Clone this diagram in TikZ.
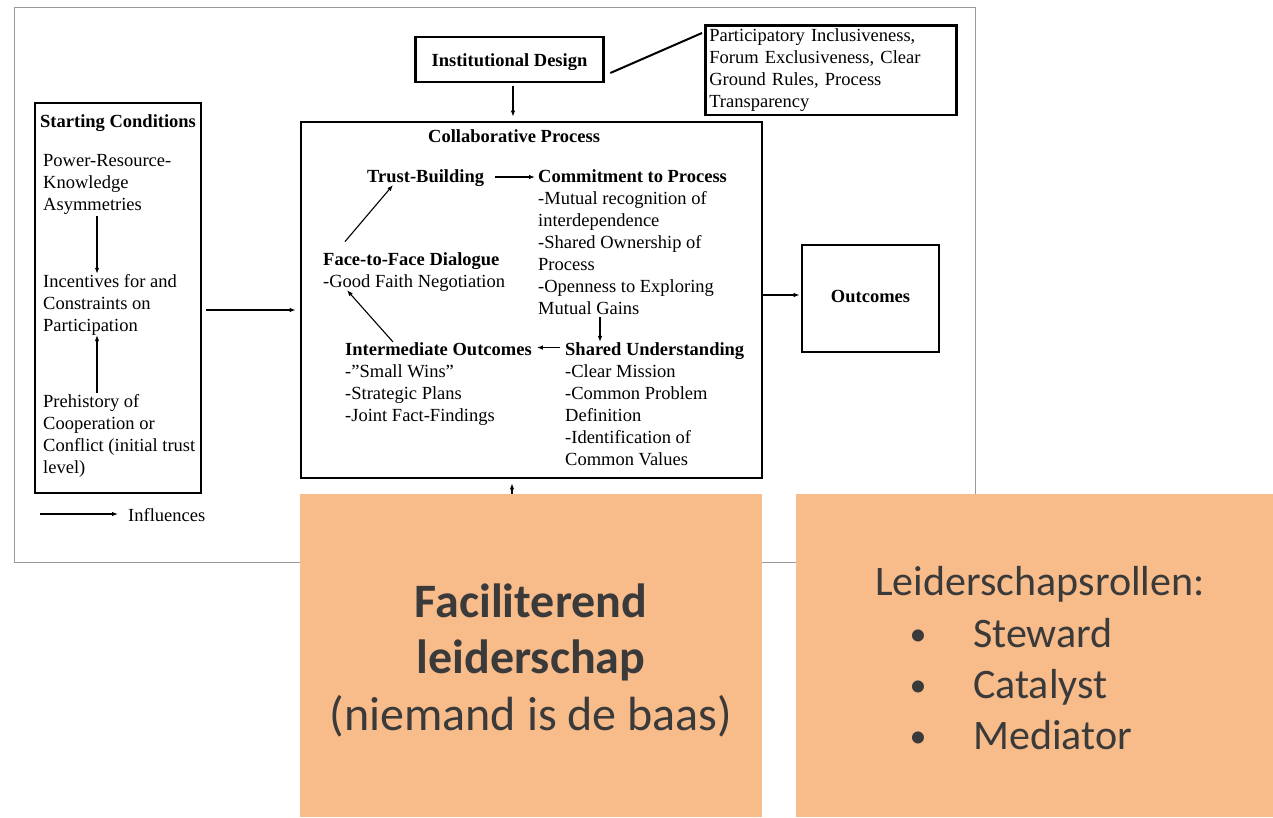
\documentclass[tikz,border=0pt]{standalone}
\usepackage{fontspec}
\setmainfont{Liberation Serif}
\newfontfamily\calib{Carlito}
\usetikzlibrary{arrows.meta}
\definecolor{orangebg}{RGB}{248,187,138}
\definecolor{ink}{RGB}{58,58,58}
\begin{document}
\begin{tikzpicture}[x=1pt,y=-1pt,
  box/.style={draw, line width=2.6pt, inner sep=0pt},
  txt/.style={font=\fontsize{18.5}{22}\selectfont, inner sep=0pt, align=left, anchor=base west},
  arr/.style={line width=1.1pt, -{Latex[length=6pt,width=4.5pt]}},
  panel/.style={fill=orangebg, draw=none, inner sep=0pt, anchor=north west},
  big/.style={font=\calib\fontsize{48}{56.5}\selectfont, text=ink, inner sep=0pt},
  mid/.style={font=\calib\fontsize{42}{51.5}\selectfont, text=ink, inner sep=0pt},
  bul/.style={font=\calib\fontsize{34}{40}\selectfont, text=ink, inner sep=0pt}]
\useasboundingbox (0,0) rectangle (1273,817);
\draw[line width=1pt, gray!80] (14,7) rectangle (975,562);

% helper coordinates
\coordinate (c97) at (97,0);
\coordinate (c513) at (513,0);
\coordinate (c600) at (600,0);
\coordinate (h1) at (0,310);
\coordinate (h2) at (0,295);

% Starting conditions (multi-line nodes: base = last line)
\node[box, minimum width=166pt, minimum height=390pt] (sc) at (118,298) {};
\node[txt] (sch) at (40,127) {\textbf{Starting Conditions}};
\node[txt] (s1) at (43,210) {Power-Resource-\\Knowledge\\Asymmetries};
\node[txt] (s2) at (43,331) {Incentives for and\\Constraints on\\Participation};
\node[txt] (s3) at (43,473) {Prehistory of\\Cooperation or\\Conflict (initial trust\\level)};
\draw[arr, shorten <=2pt] (s1.south -| c97) -- (s2.north -| c97);
\draw[arr, shorten <=1pt] (s3.north -| c97) -- (s2.south -| c97);

% Institutional design
\node[box, minimum width=188pt, minimum height=45pt, text height=18pt, text depth=4pt,
      font=\fontsize{18.5}{22}\selectfont\bfseries] (id) at (509.5,59.5) {Institutional Design};
\node[box, anchor=north west, text width=243pt, inner xsep=4pt, inner ysep=3.4pt, align=left,
      font=\fontsize{18.5}{22}\selectfont] (pi) at (704,24)
      {Participatory Inclusiveness,\\Forum Exclusiveness, Clear\\Ground Rules, Process\\Transparency};
\draw[line width=2pt] ([xshift=5.5pt,yshift=-13.5pt]id.east) -- ([xshift=-2pt,yshift=-9pt]pi.north west);

% Collaborative process
\node[box, minimum width=461pt, minimum height=356pt] (cp) at (531.5,300) {};
\node[txt] (cph) at (428,142) {\textbf{Collaborative Process}};
\node[txt] (tb) at (367,182) {\textbf{Trust-Building}};
\node[txt] (cm) at (538,314) {\textbf{Commitment to Process}\\-Mutual recognition of\\interdependence\\-Shared Ownership of\\Process\\-Openness to Exploring\\Mutual Gains};
\node[txt] (ff) at (323,287) {\textbf{Face-to-Face Dialogue}\\-Good Faith Negotiation};
\node[txt] (io) at (345,421) {\textbf{Intermediate Outcomes}\\-”Small Wins”\\-Strategic Plans\\-Joint Fact-Findings};
\node[txt] (su) at (565,465) {\textbf{Shared Understanding}\\-Clear Mission\\-Common Problem\\Definition\\-Identification of\\Common Values};

\coordinate (tbR) at ([xshift=11pt,yshift=5pt]tb.base east);
\draw[arr, shorten >=3pt] (tbR) -- (tbR -| cm.west);
\draw[arr, shorten <=3pt] (cm.south -| c600) -- (su.north -| c600);
\coordinate (suL) at ([xshift=-5pt,yshift=-5.6pt]su.north west);
\draw[arr, shorten >=5pt] (suL) -- (suL -| io.east);
\draw[arr] ([xshift=48pt]io.north west) -- ([xshift=24pt,yshift=1pt]ff.south west);
\draw[arr] ([xshift=22pt,yshift=10.4pt]ff.north west) -- ([xshift=26pt,yshift=-3pt]tb.base west);

% Outcomes
\node[box, minimum width=137pt, minimum height=107pt, text height=11pt, text depth=4pt,
      font=\fontsize{18.5}{22}\selectfont\bfseries] (oc) at (870.5,298.5) {Outcomes};

% connectors between boxes
\draw[arr, shorten <=4pt, shorten >=4pt] (sc.east |- h1) -- (cp.west |- h1);
\draw[arr, shorten <=3pt, shorten >=4pt] (id.south -| c513) -- (cp.north -| c513);
\draw[arr, shorten >=1pt] (cp.east |- h2) -- (oc.west |- h2);
\coordinate (c512) at (512,505);
\draw[arr, shorten >=4pt] (c512) -- (cp.south -| c512);

% legend
\coordinate (lg) at (40,514);
\node[txt] (infl) at (128,521) {Influences};
\draw[arr] (lg) -- ([xshift=-10pt,yshift=7pt]infl.base west);

% orange panels
\node[panel, minimum width=462pt, minimum height=323pt] (p1) at (300,494) {};
\node[panel, minimum width=477pt, minimum height=323pt] (p2) at (796,494) {};
\node[big, anchor=base, align=center] (p1t) at (531,730) {\textbf{Faciliterend}\\\textbf{leiderschap}\\(niemand is de baas)};
\node[mid, anchor=base] (rol) at (1040,595) {Leiderschapsrollen:};
\node[bul, anchor=base] (b1) at (918,645) {•};
\node[bul, anchor=base] (b2) at (918,696) {•};
\node[bul, anchor=base] (b3) at (918,747) {•};
\node[mid, anchor=base west] (r1) at (973,647) {Steward};
\node[mid, anchor=base west] (r2) at (973,698) {Catalyst};
\node[mid, anchor=base west] (r3) at (973,749) {Mediator};
\end{tikzpicture}
\end{document}
